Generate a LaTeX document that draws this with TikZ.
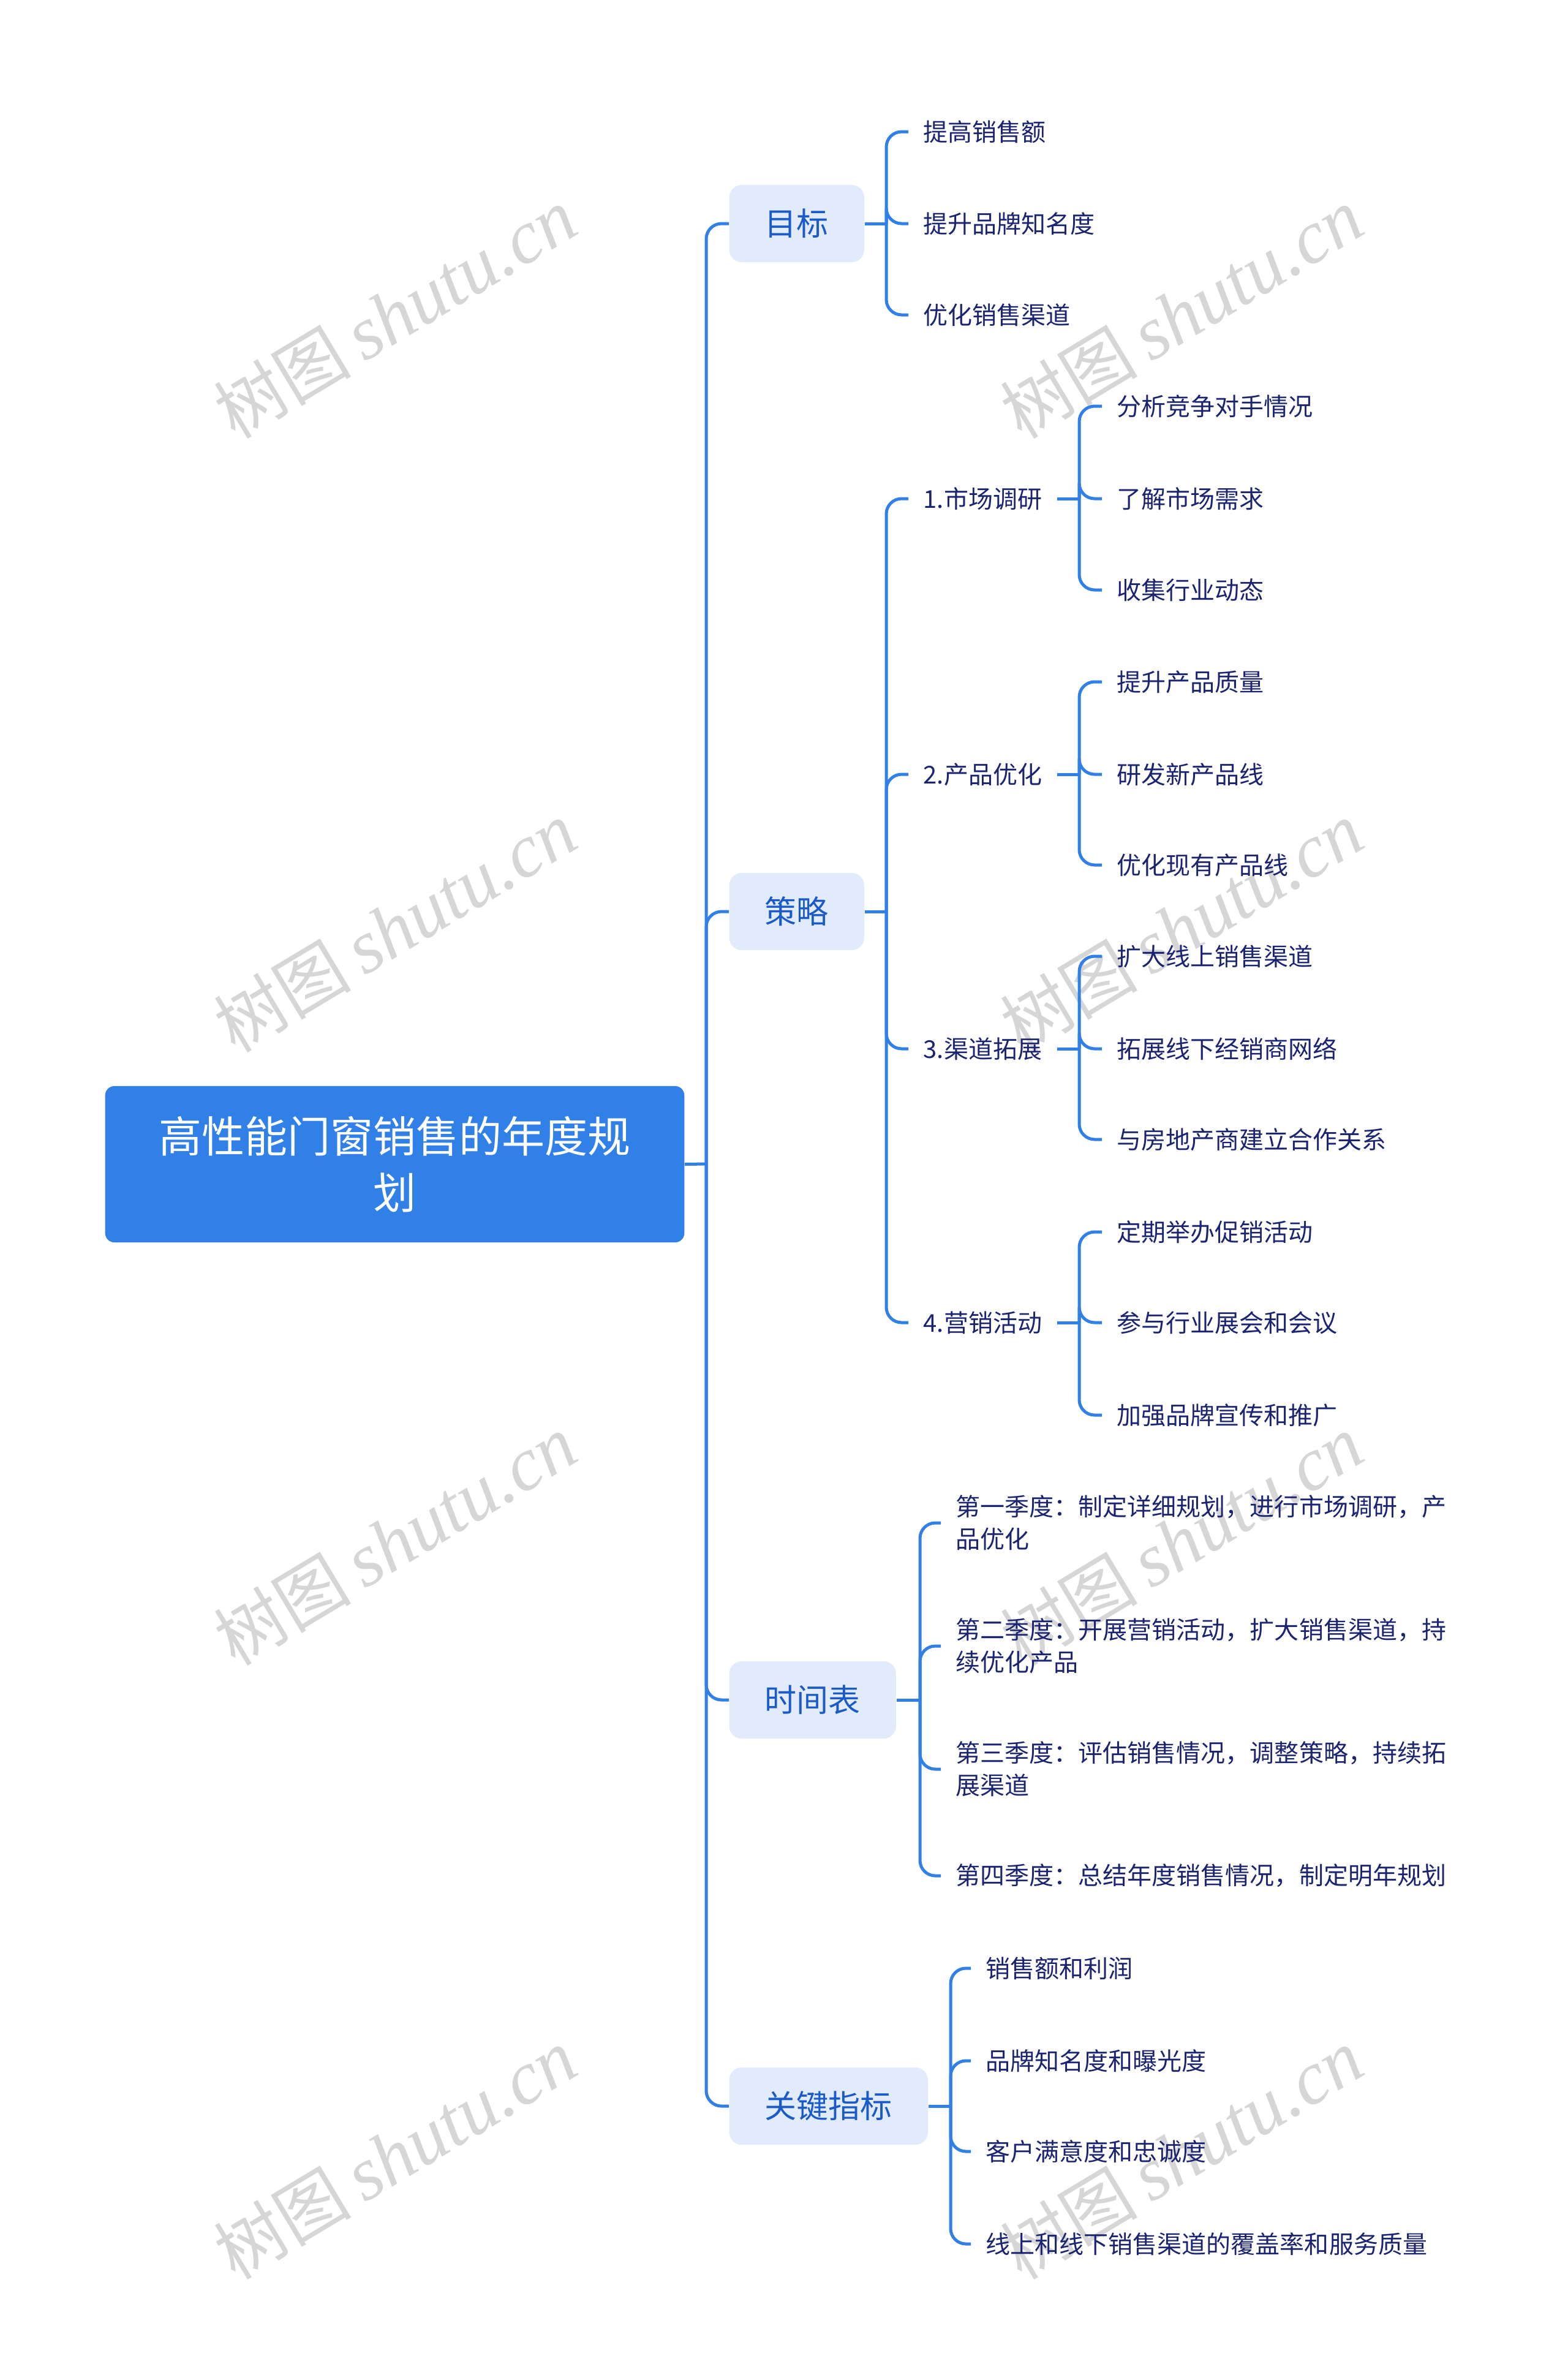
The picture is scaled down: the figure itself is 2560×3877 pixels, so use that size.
\documentclass[tikz,border=0pt]{standalone}
\usepackage{fontspec}
\setmainfont{Noto Sans CJK SC}
\newfontfamily\cjk{Noto Sans CJK SC}
\newfontfamily\wmlat{Liberation Serif}
\definecolor{linec}{HTML}{3180E8}
\definecolor{rootc}{HTML}{3180E8}
\definecolor{lonefill}{HTML}{E2EBFC}
\definecolor{lonetext}{HTML}{1A5BC8}
\definecolor{leaftext}{HTML}{1B2470}
\definecolor{wmc}{HTML}{D6D6D6}
\tikzset{
  conn/.style={draw=linec, line width=0.05cm, rounded corners=0.25cm},
  rootbox/.style={fill=rootc, text=white, rounded corners=0.15cm, minimum width=9.45cm,
    minimum height=2.55cm, align=center, inner sep=0pt,
    font=\fontsize{19.92pt}{26.17pt}\selectfont},
  lone/.style={anchor=west, fill=lonefill, text=lonetext, rounded corners=0.2cm,
    minimum height=1.26cm, inner xsep=0.58cm, inner ysep=0pt,
    font=\fontsize{14.79pt}{18pt}\selectfont},
  leaf/.style={anchor=west, inner xsep=0.24cm, inner ysep=0pt, text=leaftext, align=left,
    font=\fontsize{11.38pt}{15.08pt}\selectfont},
  wmark/.style={text=wmc, rotate=31, inner sep=0pt, font=\fontsize{35pt}{37pt}\selectfont}
}
\begin{document}
\begin{tikzpicture}[x=0.01cm, y=-0.01cm]
\fill[white] (0,0) rectangle (2560,3877);
\useasboundingbox (0,0) rectangle (2560,3877);
% watermarks
\foreach \wx in {645,1929}{
  \foreach \wy in {512,1514,2515,3517}{
    \node[wmark] at (\wx,\wy) {{\cjk\fontsize{32pt}{34pt}\selectfont 树图}\hspace{6pt}{\wmlat\itshape shutu.cn}};
  }
}
% root
\node[rootbox] (root) at (644.5,1900.5) {高性能门窗销售的年度规\\划};
\coordinate (trunk) at (1153,1900);
% level 1
\node[lone] (mubiao) at (1190,365) {目标};
\node[lone] (celue) at (1190,1488) {策略};
\node[lone] (shijian) at (1190,2775) {时间表};
\node[lone] (zhibiao) at (1190,3438) {关键指标};
\draw[conn] (root.east) -- (trunk);
\foreach \n in {mubiao,celue,shijian,zhibiao}{ \draw[conn] (trunk) |- (\n.west); }
% 目标
\coordinate (jm) at (1447,365);
\node[leaf] (m1) at (1483,215) {提高销售额};
\node[leaf] (m2) at (1483,365) {提升品牌知名度};
\node[leaf] (m3) at (1483,514) {优化销售渠道};
\draw[conn] (mubiao.east) -- (jm);
\foreach \n in {m1,m2,m3}{ \draw[conn] (jm) |- (\n.west); }
% 策略
\coordinate (jc) at (1447,1488);
\node[leaf] (c1) at (1483,814) {1.市场调研};
\node[leaf] (c2) at (1483,1264) {2.产品优化};
\node[leaf] (c3) at (1483,1712) {3.渠道拓展};
\node[leaf] (c4) at (1483,2159) {4.营销活动};
\draw[conn] (celue.east) -- (jc);
\foreach \n in {c1,c2,c3,c4}{ \draw[conn] (jc) |- (\n.west); }
% sub groups
\coordinate (j1) at (1762,814);
\node[leaf] (c11) at (1799,663) {分析竞争对手情况};
\node[leaf] (c12) at (1799,814) {了解市场需求};
\node[leaf] (c13) at (1799,963) {收集行业动态};
\draw[conn] (c1.east) -- (j1);
\foreach \n in {c11,c12,c13}{ \draw[conn] (j1) |- (\n.west); }
\coordinate (j2) at (1762,1264);
\node[leaf] (c21) at (1799,1113) {提升产品质量};
\node[leaf] (c22) at (1799,1264) {研发新产品线};
\node[leaf] (c23) at (1799,1412) {优化现有产品线};
\draw[conn] (c2.east) -- (j2);
\foreach \n in {c21,c22,c23}{ \draw[conn] (j2) |- (\n.west); }
\coordinate (j3) at (1762,1712);
\node[leaf] (c31) at (1799,1561) {扩大线上销售渠道};
\node[leaf] (c32) at (1799,1712) {拓展线下经销商网络};
\node[leaf] (c33) at (1799,1860) {与房地产商建立合作关系};
\draw[conn] (c3.east) -- (j3);
\foreach \n in {c31,c32,c33}{ \draw[conn] (j3) |- (\n.west); }
\coordinate (j4) at (1762,2159);
\node[leaf] (c41) at (1799,2011) {定期举办促销活动};
\node[leaf] (c42) at (1799,2159) {参与行业展会和会议};
\node[leaf] (c43) at (1799,2310) {加强品牌宣传和推广};
\draw[conn] (c4.east) -- (j4);
\foreach \n in {c41,c42,c43}{ \draw[conn] (j4) |- (\n.west); }
% 时间表
\coordinate (js) at (1502,2775);
\node[leaf] (s1) at (1536,2486) {第一季度：制定详细规划，进行市场调研，产\\品优化};
\node[leaf] (s2) at (1536,2687) {第二季度：开展营销活动，扩大销售渠道，持\\续优化产品};
\node[leaf] (s3) at (1536,2888) {第三季度：评估销售情况，调整策略，持续拓\\展渠道};
\node[leaf] (s4) at (1536,3062) {第四季度：总结年度销售情况，制定明年规划};
\draw[conn] (shijian.east) -- (js);
\foreach \n in {s1,s2,s3,s4}{ \draw[conn] (js) |- (\n.west); }
% 关键指标
\coordinate (jz) at (1552,3438);
\node[leaf] (z1) at (1585,3213) {销售额和利润};
\node[leaf] (z2) at (1585,3364) {品牌知名度和曝光度};
\node[leaf] (z3) at (1585,3512) {客户满意度和忠诚度};
\node[leaf] (z4) at (1585,3663) {线上和线下销售渠道的覆盖率和服务质量};
\draw[conn] (zhibiao.east) -- (jz);
\foreach \n in {z1,z2,z3,z4}{ \draw[conn] (jz) |- (\n.west); }
\end{tikzpicture}
\end{document}
